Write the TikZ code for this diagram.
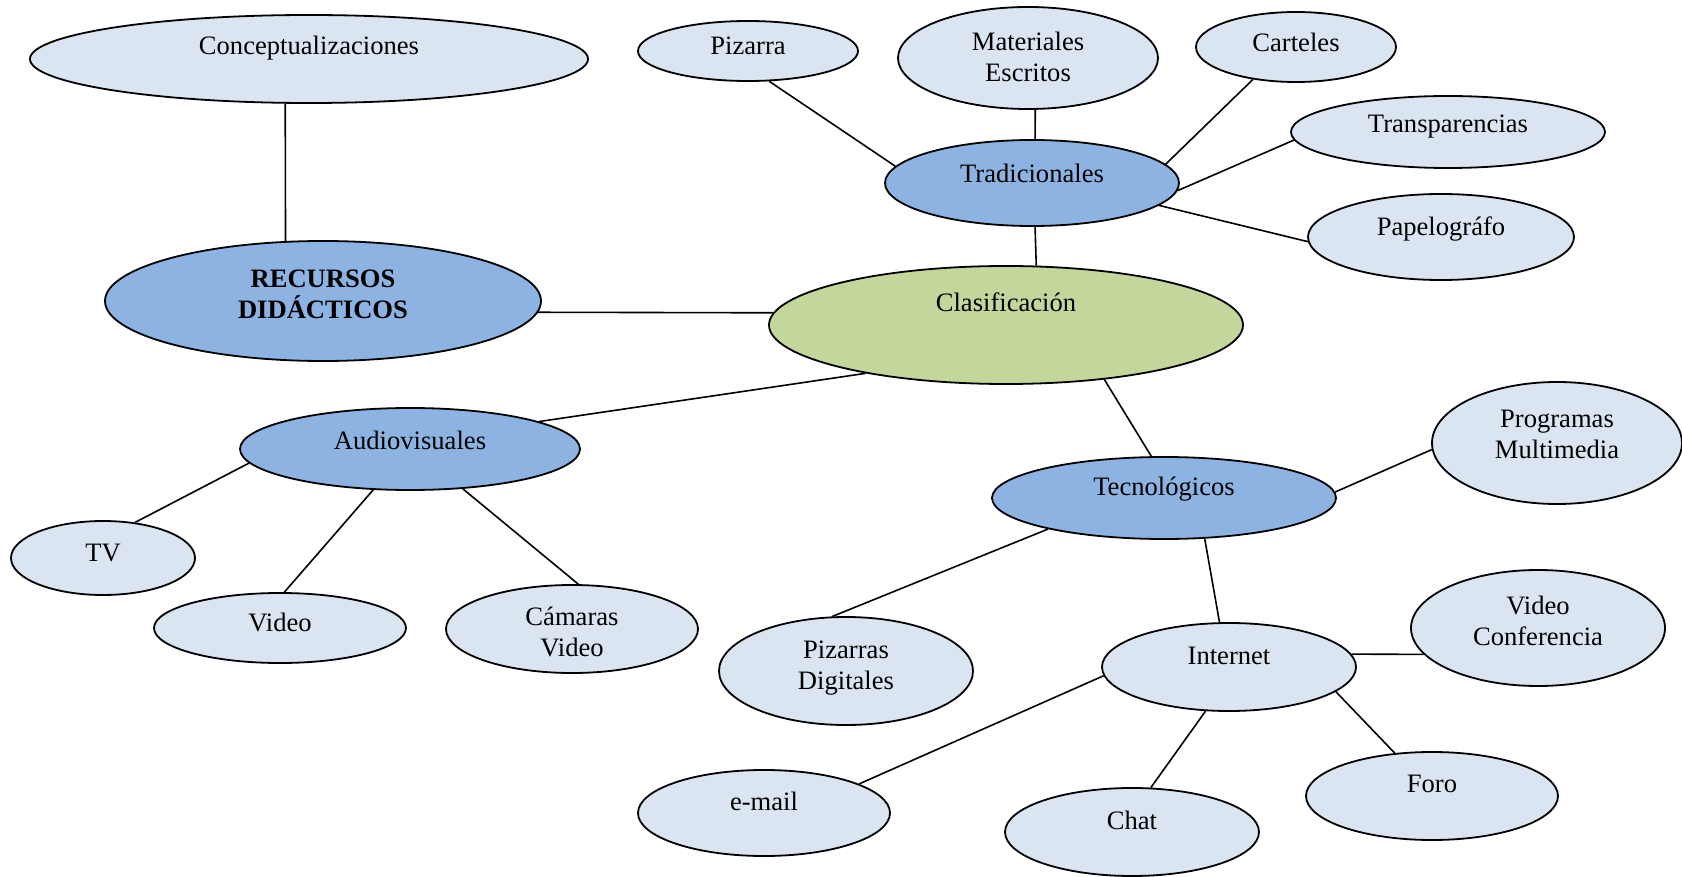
\documentclass[tikz,border=0pt]{standalone}
\usepackage{fontspec}
\setmainfont{Liberation Serif}
\usetikzlibrary{shapes.geometric}
\definecolor{lightb}{HTML}{DBE5F1}
\definecolor{midb}{HTML}{8DB3E2}
\definecolor{greenc}{HTML}{C3D69B}
\begin{document}
\begin{tikzpicture}[x=0.5pt,y=-0.5pt,
  ell/.style={ellipse,draw=black,line width=0.9pt,inner sep=0pt},
  lb/.style={ell,fill=lightb},
  mb/.style={ell,fill=midb},
  gb/.style={ell,fill=greenc},
  tx/.style={font=\fontsize{13.3}{15.5}\selectfont,align=center,inner sep=0pt},
  conn/.style={draw=black,line width=0.8pt}]
\useasboundingbox (0,0) rectangle (1682,877);

\node[lb,minimum width=279pt,minimum height=44pt,label={[tx,yshift=5.5pt]center:Conceptualizaciones}] (concept) at (309,59) {};
\node[mb,minimum width=218pt,minimum height=60pt,label={[tx,font=\fontsize{13.3}{15.5}\selectfont\bfseries,yshift=3.5pt]center:RECURSOS\\DIDÁCTICOS}] (recursos) at (323,301) {};
\node[gb,minimum width=237pt,minimum height=59pt,label={[tx,yshift=11.5pt]center:Clasificación}] (clasif) at (1006,325) {};

\node[mb,minimum width=147pt,minimum height=43pt,label={[tx,yshift=5pt]center:Tradicionales}] (trad) at (1032,183) {};
\node[lb,minimum width=110pt,minimum height=30pt,label={[tx,yshift=2.5pt]center:Pizarra}] (pizarra) at (748,51) {};
\node[lb,minimum width=130pt,minimum height=51pt,label={[tx,yshift=0.5pt]center:Materiales\\Escritos}] (mater) at (1028,58) {};
\node[lb,minimum width=100pt,minimum height=35pt,label={[tx,yshift=2.5pt]center:Carteles}] (cart) at (1296,47) {};
\node[lb,minimum width=157pt,minimum height=36pt,label={[tx,yshift=2.5pt]center:Transparencias}] (transp) at (1448,132) {};
\node[lb,minimum width=133pt,minimum height=43pt,label={[tx,yshift=4pt]center:Papelográfo}] (papel) at (1441,237) {};

\node[mb,minimum width=170pt,minimum height=41pt,label={[tx,yshift=4.5pt]center:Audiovisuales}] (audio) at (410,449) {};
\node[lb,minimum width=92pt,minimum height=37pt,label={[tx,yshift=2.5pt]center:TV}] (tv) at (103,558) {};
\node[lb,minimum width=126pt,minimum height=35pt,label={[tx,yshift=3pt]center:Video}] (video) at (280,628) {};
\node[lb,minimum width=126pt,minimum height=44pt,label={[tx,yshift=-1.5pt]center:Cámaras\\Video}] (camaras) at (572,629) {};

\node[mb,minimum width=172pt,minimum height=41pt,label={[tx,yshift=4.5pt]center:Tecnológicos}] (tecno) at (1164,498) {};
\node[lb,minimum width=125pt,minimum height=61pt,label={[tx,yshift=4.5pt]center:Programas\\Multimedia}] (prog) at (1557,443) {};
\node[lb,minimum width=127pt,minimum height=54pt,label={[tx,yshift=1.5pt]center:Pizarras\\Digitales}] (pizd) at (846,671) {};
\node[lb,minimum width=127pt,minimum height=44pt,label={[tx,yshift=5.5pt]center:Internet}] (internet) at (1229,667) {};
\node[lb,minimum width=127pt,minimum height=58pt,label={[tx,yshift=3.5pt]center:Video\\Conferencia}] (vconf) at (1538,628) {};
\node[lb,minimum width=126pt,minimum height=43pt,label={[tx,yshift=6pt]center:e-mail}] (email) at (764,813) {};
\node[lb,minimum width=127pt,minimum height=44pt,label={[tx,yshift=6pt]center:Chat}] (chat) at (1132,832) {};
\node[lb,minimum width=126pt,minimum height=44pt,label={[tx,yshift=6pt]center:Foro}] (foro) at (1432,796) {};

\draw[conn] (concept.-118.6) -- (recursos.122.3);
\draw[conn] (recursos.-3.4) -- (clasif.177.3);
\draw[conn] (pizarra.-55.5) -- (trad.173.3);
\draw[conn] (mater.-82.2) -- (trad.86);
\draw[conn] (cart.-143.3) -- (trad.8.3);
\draw[conn] (transp.-177.4) -- (trad.-3.1);
\draw[conn] (papel.-178.3) -- (trad.-10.3);
\draw[conn] (trad.-86) -- (clasif.63.8);
\draw[conn] (clasif.-161.8) -- (audio.12.3);
\draw[conn] (clasif.-29.1) -- (tecno.107.6);
\draw[conn] (audio.-175.8) -- (tv.48.7);
\draw[conn] (audio.-132.9) -- (video.83.7);
\draw[conn] (audio.-37) -- (camaras.82.1);
\draw[conn] (tecno.2.6) -- (prog.-177.3);
\draw[conn] (tecno.-165.5) -- (pizd.104.3);
\draw[conn] (tecno.-45) -- (internet.102.8);
\draw[conn] (internet.6.6) -- (vconf.-167.8);
\draw[conn] (internet.-176.8) -- (email.17.7);
\draw[conn] (internet.-118.1) -- (chat.67.3);
\draw[conn] (internet.-13.5) -- (foro.131.4);
\end{tikzpicture}
\end{document}
